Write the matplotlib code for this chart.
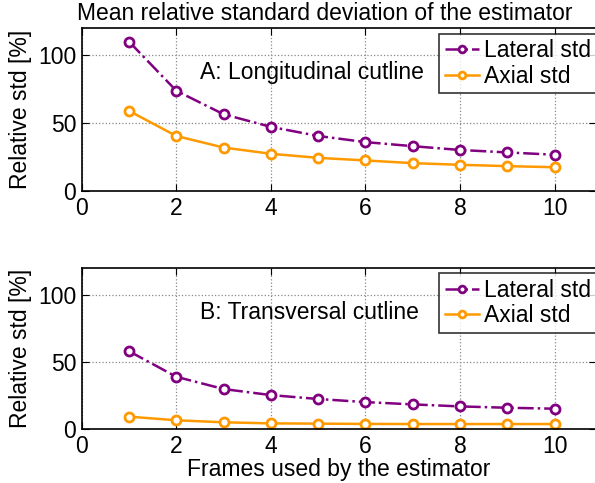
import numpy as np
import matplotlib.pyplot as plt

plt.rcParams['font.family'] = ['Liberation Sans', 'DejaVu Sans']

frames = [1, 2, 3, 4, 5, 6, 7, 8, 9, 10]
lat_long = [110, 73.8, 56.5, 47.2, 40.5, 36, 33, 30.2, 28.4, 26.7]
ax_long = [59, 40.5, 32, 27.4, 24.4, 22.5, 20.5, 19.3, 18.3, 17.5]
lat_trans = [58, 39, 29.9, 25.4, 22.5, 20.2, 18.5, 17, 16, 15.3]
ax_trans = [9.4, 6.7, 5.2, 4.4, 4.2, 4.0, 3.9, 3.9, 3.9, 3.9]

purple = '#800080'
orange = '#ff9900'
fs = 16.5

fig = plt.figure(figsize=(5.95, 4.83), dpi=100)
W, H = 595.0, 483.0
left = 81.7 / W
width = (596 - 81.7) / W
xmax = (596 - 81.7) / 47.3

ax1 = fig.add_axes([left, (H - 191) / H, width, 163 / H])
ax2 = fig.add_axes([left, (H - 429.3) / H, width, 161.6 / H])

panels = [(ax1, lat_long, ax_long, 'A: Longitudinal cutline'),
          (ax2, lat_trans, ax_trans, 'B: Transversal cutline')]

for ax, lat, axl, label in panels:
    ax.plot(frames, lat, color=purple, ls='-.', lw=1.8, marker='o', ms=6.5,
            mfc='white', mec=purple, mew=2, label='Lateral std')
    ax.plot(frames, axl, color=orange, ls='-', lw=1.8, marker='o', ms=6.5,
            mfc='white', mec=orange, mew=2, label='Axial std')
    ax.set_xlim(0, xmax)
    ax.set_ylim(0, 120)
    ax.set_xticks([0, 2, 4, 6, 8, 10])
    ax.set_yticks([0, 50, 100])
    ax.grid(True, ls=':', color='#888888', lw=0.9)
    ax.tick_params(direction='in', length=5, top=True, right=True,
                   labelsize=fs, pad=4)
    for s in ax.spines.values():
        s.set_linewidth(1.2)
    ax.set_ylabel('Relative std [%]', fontsize=fs, labelpad=4)
    ax.text(2.5, 87, label, fontsize=fs, va='center', ha='left')
    leg = ax.legend(loc='upper left', bbox_to_anchor=(0.695, 0.965),
                    fontsize=fs, frameon=True, fancybox=False,
                    handlelength=1.5, handletextpad=0.2, borderpad=0.25,
                    labelspacing=0.1, borderaxespad=0, markerscale=0.75)
    leg.get_frame().set_edgecolor('black')
    leg.get_frame().set_linewidth(1.2)

ax1.set_title('Mean relative standard deviation of the estimator',
              fontsize=fs, pad=6, x=(325 - 81.7) / (596 - 81.7))
ax2.set_xlabel('Frames used by the estimator', fontsize=fs, labelpad=0)

fig.savefig('out.png', dpi=100)
